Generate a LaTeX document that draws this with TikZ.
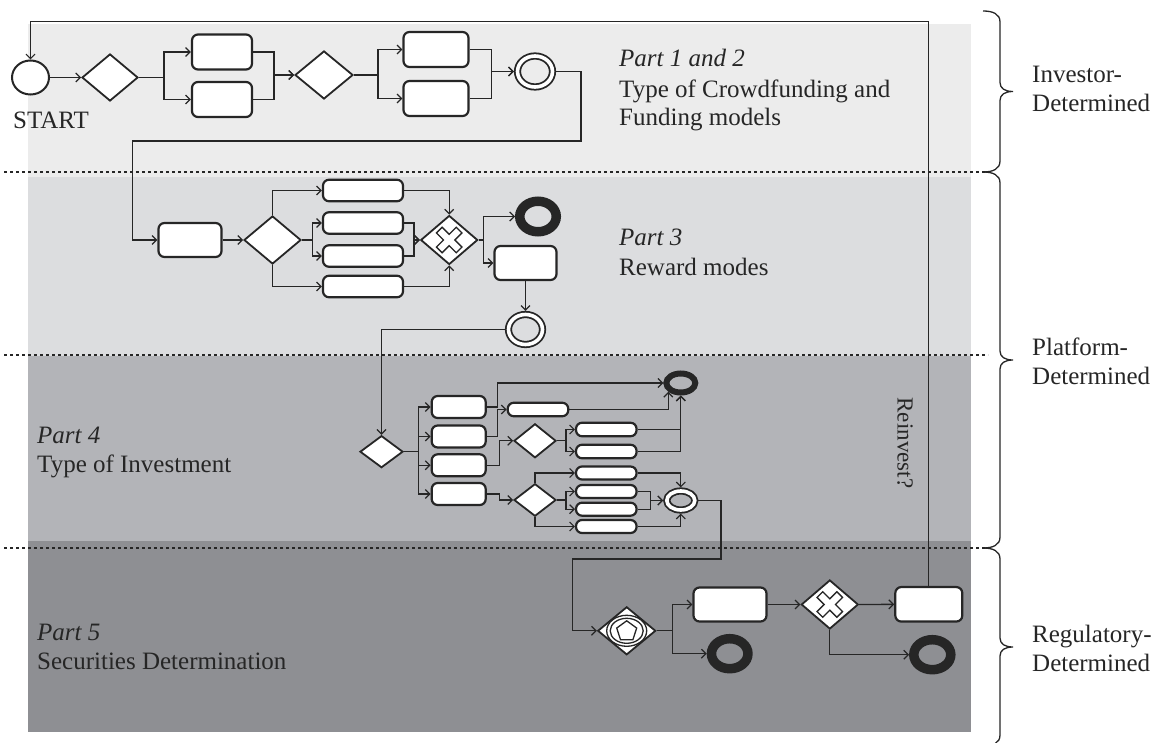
\documentclass[tikz,border=0pt]{standalone}
\usepackage{fontspec}
\setmainfont{Liberation Serif}
\usetikzlibrary{arrows.meta,shapes.geometric,calc}

\definecolor{ink}{HTML}{262626}
\definecolor{laneA}{HTML}{ECECEC}
\definecolor{laneB}{HTML}{DCDDDF}
\definecolor{laneC}{HTML}{B3B4B8}
\definecolor{laneD}{HTML}{8E8F93}

% curly brace for the responsibility groups on the right
\newcommand{\lanebrace}[2]{%
  \draw[bracestroke] (983,#1) .. controls (993,#1) and (1000,{#1+3}) .. (1000,{#1+11})
    -- (1000,{(#1+#2)/2-9}) .. controls (1000,{(#1+#2)/2-3}) and (1005,{(#1+#2)/2}) .. (1013,{(#1+#2)/2})
    .. controls (1005,{(#1+#2)/2}) and (1000,{(#1+#2)/2+3}) .. (1000,{(#1+#2)/2+9})
    -- (1000,{#2-11}) .. controls (1000,{#2-3}) and (993,#2) .. (983,#2);}

\begin{document}
\begin{tikzpicture}[x=1pt,y=-1pt,
  conn/.style={draw=ink, line width=1.3pt},
  arr/.style={conn, -{Straight Barb[length=4.5pt,width=9pt,line width=1.2pt]}},
  sep/.style={draw=ink, line width=2.6pt, dash pattern=on 3.2pt off 2.8pt},
  bracestroke/.style={draw=ink, line width=1.3pt},
  box/.style 2 args={draw=ink, fill=white, line width=2.2pt, rounded corners=6pt,
    inner sep=0pt, minimum width=#1, minimum height=#2},
  gw/.style 2 args={diamond, draw=ink, fill=white, line width=1.8pt,
    inner sep=0pt, minimum width=#1, minimum height=#2},
  startev/.style 2 args={ellipse, draw=ink, fill=white, line width=2pt,
    inner sep=0pt, minimum width=#1, minimum height=#2},
  endev/.style n args={3}{ellipse, draw=ink, line width=1.8pt, double=white,
    double distance=3.6pt, fill=#3, outer sep=3.6pt,
    inner sep=0pt, minimum width=#1, minimum height=#2},
  thickend/.style n args={3}{ellipse, draw=ink, line width=#3,
    inner sep=0pt, minimum width=#1, minimum height=#2},
  mark/.style 2 args={ellipse, draw=ink, line width=1.3pt,
    inner sep=0pt, minimum width=#1, minimum height=#2},
  lbl/.style={anchor=base west, inner sep=0pt, text=ink,
    font=\fontsize{25}{30}\selectfont},
  lblit/.style={lbl, font=\fontsize{25}{30}\selectfont\itshape},
  xormark/.pic={\draw[ink, fill=white, line width=1.3pt, rotate=45]
    (4,4) -- (4,14) -- (-4,14) -- (-4,4) -- (-14,4) -- (-14,-4) -- (-4,-4)
    -- (-4,-14) -- (4,-14) -- (4,-4) -- (14,-4) -- (14,4) -- cycle;}
]
\useasboundingbox (0,0) rectangle (1159,743);

% ---------- lanes ----------
\fill[laneA] (28,24) rectangle (971,177);
\fill[laneB] (28,177) rectangle (971,356);
\fill[laneC] (28,356) rectangle (971,541);
\fill[laneD] (28,541) rectangle (971,732);
\draw[sep] (4,172) -- (988,172);
\draw[sep] (4,355) -- (988,355);
\draw[sep] (4,548) -- (988,548);

% ---------- lane titles ----------
\node[lblit] (p12a) at (619,66.7) {Part 1 and 2};
\node[lbl]   (p12b) at (619,97.3) {Type of Crowdfunding and};
\node[lbl]   (p12c) at (619,126)  {Funding models};
\node[lblit] (p3a)  at (619,246)  {Part 3};
\node[lbl]   (p3b)  at (619,276)  {Reward modes};
\node[lblit] (p4a)  at (37,443.3) {Part 4};
\node[lbl]   (p4b)  at (37,472.7) {Type of Investment};
\node[lblit] (p5a)  at (37,640)   {Part 5};
\node[lbl]   (p5b)  at (37,669)   {Securities Determination};
\node[lbl]   (startlbl) at (13,128.3) {START};

% ---------- groups on the right ----------
\lanebrace{11}{172}
\lanebrace{172}{548}
\lanebrace{548}{746}
\node[lbl] (grpA1) at (1032,82.5)  {Investor-};
\node[lbl] (grpA2) at (1032,111.5) {Determined};
\node[lbl] (grpB1) at (1032,355)   {Platform-};
\node[lbl] (grpB2) at (1032,384)   {Determined};
\node[lbl] (grpC1) at (1032,642)   {Regulatory-};
\node[lbl] (grpC2) at (1032,671)   {Determined};

% ---------- Part 1 and 2 ----------
\node[startev={37pt}{34pt}] (st) at (30.5,77.5) {};
\node[gw={56pt}{47pt}] (g1) at (110,77.5) {};
\node[box={60pt}{35pt}] (a1) at (222,52) {};
\node[box={60pt}{35pt}] (a2) at (222,99.5) {};
\node[gw={58pt}{48pt}] (g2) at (324,75) {};
\node[box={65pt}{35pt}] (b1) at (436,49.5) {};
\node[box={65pt}{35pt}] (b2) at (436,98.5) {};
\node[endev={35pt}{31pt}{laneA}] (e1) at (535,71.5) {};

\draw[arr] (st) -- (g1);
\draw[arr] (g1.east) -- ++(25,0) |- (a1.west);
\draw[arr] (g1.east) -- ++(25,0) |- (a2.west);
\draw[arr] (a1.east) -- ++(21,0) |- (g2.west);
\draw[arr] (a2.east) -- ++(21,0) |- (g2.west);
\draw[arr] (g2.east) -- ++(24,0) |- (b1.west);
\draw[arr] (g2.east) -- ++(24,0) |- (b2.west);
\draw[arr] (b1.east) -- ++(22,0) |- (e1.west);
\draw[arr] (b2.east) -- ++(22,0) |- (e1.west);

% ---------- Part 3 ----------
\node[box={63pt}{34pt}] (c) at (190,240) {};
\node[gw={57pt}{48pt}] (d) at (272.5,240) {};
\node[box={80pt}{21.5pt}] (r1) at (363,190.5) {};
\node[box={80pt}{21.5pt}] (r2) at (363,223) {};
\node[box={80pt}{21.5pt}] (r3) at (363,256) {};
\node[box={80pt}{21.5pt}] (r4) at (363,286.5) {};
\node[gw={57pt}{49pt}] (xg) at (449.2,240) {};
\pic at (xg.center) {xormark};
\node[thickend={36.5pt}{30.5pt}{9.5pt}] (e2) at (538,216.5) {};
\node[box={62pt}{34pt}] (f) at (525.5,263) {};
\node[endev={34pt}{30pt}{laneB}] (g) at (525.5,329.5) {};

\coordinate (hand1) at (132.4,141);
\draw[arr] (e1.east) -- ++(25,0) |- (hand1) |- (c.west);
\draw[arr] (c) -- (d);
\draw[arr] (d.north) |- (r1.west);
\draw[arr] (d.east) -- ++(10.6,0) |- (r2.west);
\draw[arr] (d.east) -- ++(10.6,0) |- (r3.west);
\draw[arr] (d.south) |- (r4.west);
\draw[arr] (r1.east) -| (xg.north);
\draw[arr] (r2.east) -- ++(10,0) |- (xg.west);
\draw[arr] (r3.east) -- ++(10,0) |- (xg.west);
\draw[arr] (r4.east) -| (xg.south);
\draw[arr] (xg.east) -- ++(5,0) |- (e2.west);
\draw[arr] (xg.east) -- ++(5,0) |- (f.west);
\draw[arr] (f) -- (g);

% ---------- Part 4 ----------
\node[gw={43pt}{32pt}] (h) at (381.5,451.7) {};
\node[box={54pt}{22pt}] (i1) at (458.7,407) {};
\node[box={54pt}{22pt}] (i2) at (458.7,436.5) {};
\node[box={54pt}{22pt}] (i3) at (458.7,465.3) {};
\node[box={54pt}{22pt}] (i4) at (458.7,494) {};
\node[box={60.5pt}{13.5pt}] (k) at (538,409.5) {};
\node[thickend={29pt}{19pt}{6pt}] (j) at (680.8,383) {};
\node[gw={42pt}{34pt}] (m) at (535,440.8) {};
\node[box={60.5pt}{13.5pt}] (l1) at (606.3,429.5) {};
\node[box={60.5pt}{13.5pt}] (l2) at (606.3,451.5) {};
\node[gw={42pt}{32.5pt}] (n) at (535,500) {};
\node[box={60.5pt}{13pt}] (q1) at (606.3,473) {};
\node[box={60.5pt}{13pt}] (q2) at (606.3,491.5) {};
\node[box={60.5pt}{13pt}] (q3) at (606.3,509.2) {};
\node[box={60.5pt}{13pt}] (q4) at (606.3,526.5) {};
\node[endev={28pt}{19pt}{laneC}] (qe) at (680.8,500.5) {};

\draw[arr] (g.west) -| (h.north);
\draw[arr] (h.east) -- ++(14.5,0) |- (i1.west);
\draw[arr] (h.east) -- ++(14.5,0) |- (i2.west);
\draw[arr] (h.east) -- ++(14.5,0) |- (i3.west);
\draw[arr] (h.east) -- ++(14.5,0) |- (i4.west);
\draw[arr] (i1.east) -- ++(11,0) |- (j.west);
\draw[arr] (i2.east) -- ++(11,0) |- (k.west);
\draw[arr] (i3.east) -- ++(13,0) |- (m.west);
\draw[arr] (i4.east) -- ++(12.5,0) |- (n.west);
\draw[arr] (k.east) -| (j.215);
\draw[arr] (l1.east) -| (j.south);
\draw[arr] (l2.east) -| (j.south);
\draw[arr] (m.east) -- ++(9,0) |- (l1.west);
\draw[arr] (m.east) -- ++(9,0) |- (l2.west);
\draw[arr] (n.north) |- (q1.west);
\draw[arr] (n.east) -- ++(9,0) |- (q2.west);
\draw[arr] (n.east) -- ++(9,0) |- (q3.west);
\draw[arr] (n.south) |- (q4.west);
\draw[arr] (q1.east) -| (qe.north);
\draw[arr] (q2.east) -- ++(13,0) |- (qe.west);
\draw[arr] (q3.east) -- ++(13,0) |- (qe.west);
\draw[arr] (q4.east) -| (qe.south);

% ---------- Part 5 ----------
\node[gw={58pt}{48pt}] (s) at (626.7,630.8) {};
\node[mark={40pt}{31pt}] (s1) at (s.center) {};
\node[mark={33pt}{25pt}] (s2) at (s.center) {};
\node[regular polygon, regular polygon sides=5, draw=ink, line width=1.3pt,
      inner sep=0pt, minimum size=21pt] (s3) at ([yshift=-0.5pt]s.center) {};
\node[box={73pt}{34pt}] (t) at (730,604.5) {};
\node[thickend={36.5pt}{30pt}{9.5pt}] (u) at (729.7,653.7) {};
\node[gw={57pt}{49pt}] (v) at (829.8,604.5) {};
\pic at (v.center) {xormark};
\node[box={67pt}{34.5pt}] (w) at (928.8,604.3) {};
\node[thickend={37pt}{30pt}{9.5pt}] (yy) at (932.3,654.7) {};

\coordinate (hand2) at (721,559);
\coordinate (hand3) at (572.3,559);
\draw[arr] (qe.east) -| (hand2) -- (hand3) |- (s.west);
\draw[arr] (s.east) -- ++(16,0) |- (t.west);
\draw[arr] (s.east) -- ++(16,0) |- (u.west);
\draw[arr] (t) -- (v);
\draw[arr] (v) -- (w);
\draw[arr] (v.south) |- (yy.west);

% ---------- reinvest loop ----------
\coordinate (loop) at (0,21.7);
\draw[arr] (w.north) -- (w.north |- loop) -| (st.north);
\node[rotate=-90, inner sep=0pt, text=ink, font=\fontsize{23}{27}\selectfont]
  (reinv) at (905,443) {Reinvest?};
\end{tikzpicture}
\end{document}
